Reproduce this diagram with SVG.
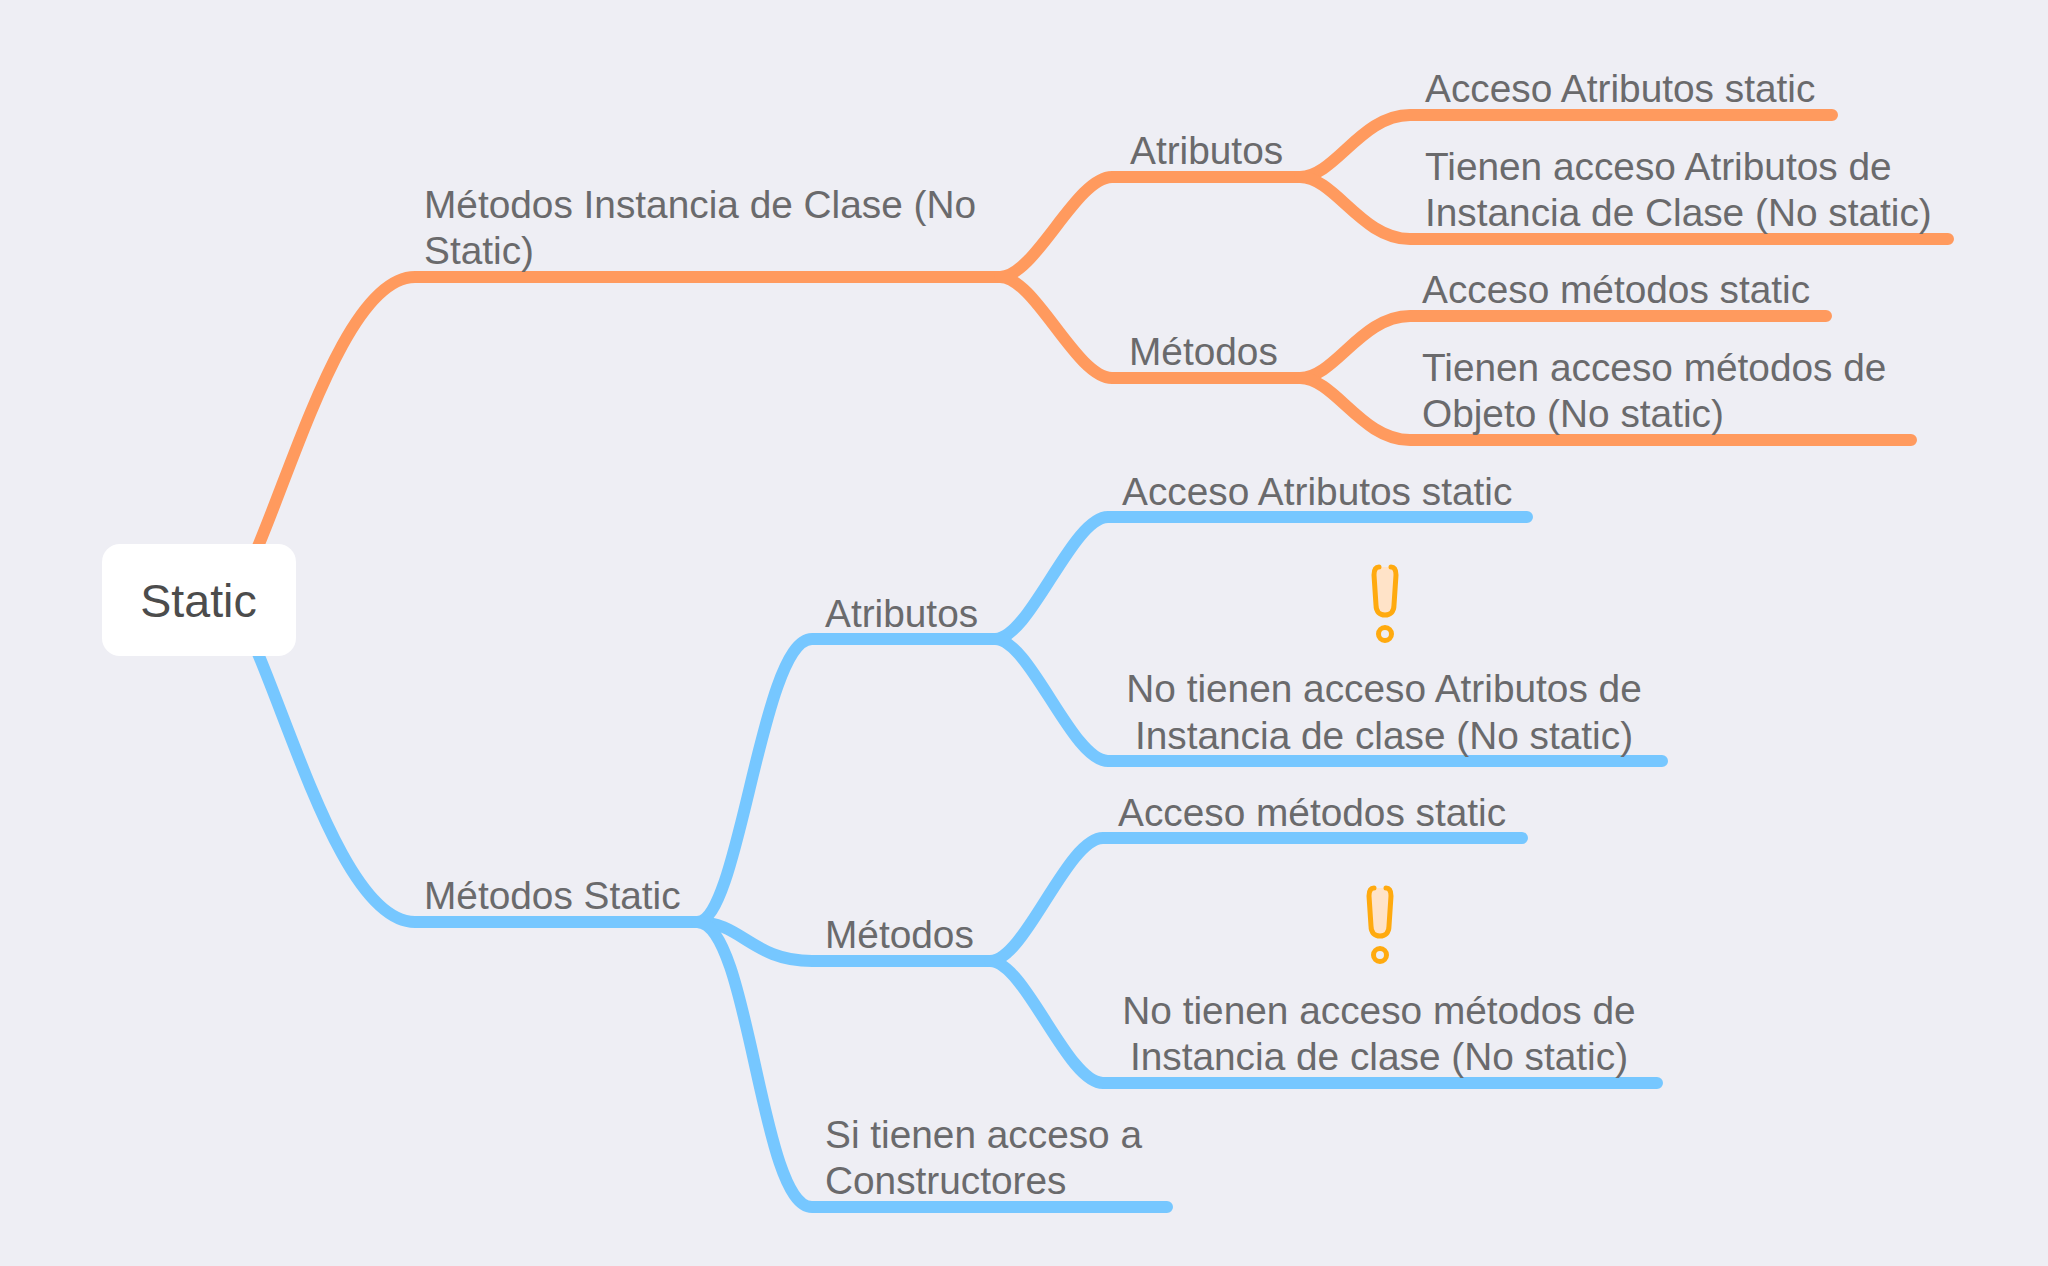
<svg xmlns="http://www.w3.org/2000/svg" width="2048" height="1266" viewBox="0 0 2048 1266">
<style>
.c{fill:none;stroke-width:12;stroke-linecap:round;stroke-linejoin:round}
.o{stroke:#FF9A5E}
.b{stroke:#76C7FF}
text{font-family:"Liberation Sans",Arial,sans-serif;font-size:38.8px;fill:#6a6a6c}
.m{text-anchor:middle}
.i{fill:#FFE3C8;stroke:#FFAA0F;stroke-width:5;stroke-linecap:round}
.d{fill:none;stroke:#FFAA0F;stroke-width:5}
</style>
<rect width="2048" height="1266" fill="#EEEEF4"/>
<g id="connectors">
<path class="c o" d="M240 590L259 544C300 445 350 277 415 277H1000"/>
<path class="c o" d="M1000 277C1035 277 1076 177 1112 177H1300"/>
<path class="c o" d="M1000 277C1035 277 1076 378 1112 378H1300"/>
<path class="c o" d="M1300 177C1335 177 1361 115 1410 115H1832"/>
<path class="c o" d="M1300 177C1335 177 1361 239 1410 239H1948"/>
<path class="c o" d="M1300 378C1335 378 1361 316 1410 316H1826"/>
<path class="c o" d="M1300 378C1335 378 1361 440 1410 440H1911"/>
<path class="c b" d="M240 610L259 656C300 755 350 922 415 922H700"/>
<path class="c b" d="M697 922C740 922 761 639 812 639H995"/>
<path class="c b" d="M697 922C742 922 752 961 812 961H990"/>
<path class="c b" d="M697 922C750 922 760 1207 812 1207H1167"/>
<path class="c b" d="M995 639C1030 639 1072 517 1108 517H1527"/>
<path class="c b" d="M995 639C1030 639 1072 761 1108 761H1662"/>
<path class="c b" d="M990 961C1025 961 1067 838 1103 838H1522"/>
<path class="c b" d="M990 961C1025 961 1067 1083 1103 1083H1657"/>
</g>
<g id="root"><rect x="102" y="544" width="194" height="112" rx="18" fill="#fff"/><text x="198.500" y="617" text-anchor="middle" style="font-size:46.6px;fill:#4c4c4c">Static</text></g>
<g id="n1"><text x="424" y="218">Métodos Instancia de Clase (No</text><text x="424" y="264">Static)</text></g>
<g id="n2"><text x="1130" y="164">Atributos</text></g>
<g id="n3"><text x="1425" y="102">Acceso Atributos static</text></g>
<g id="n4"><text x="1425" y="179.500">Tienen acceso Atributos de</text><text x="1425" y="226">Instancia de Clase (No static)</text></g>
<g id="n5"><text x="1129" y="365">Métodos</text></g>
<g id="n6"><text x="1422" y="303">Acceso métodos static</text></g>
<g id="n7"><text x="1422" y="381">Tienen acceso métodos de</text><text x="1422" y="427">Objeto (No static)</text></g>
<g id="n8"><text x="424" y="909">Métodos Static</text></g>
<g id="n9"><text x="825" y="627">Atributos</text></g>
<g id="n10"><text x="1122" y="505">Acceso Atributos static</text></g>
<g id="n11"><text class="m" x="1384" y="702">No tienen acceso Atributos de</text><text class="m" x="1384" y="749">Instancia de clase (No static)</text>
<path class="i" d="M1379 567C1375 567 1374 571 1374 575L1376 605C1376 612 1380 615 1385 615C1390 615 1394 612 1394 605L1396 575C1396 571 1395 567 1391 567"/><circle class="d" cx="1385" cy="634" r="6.5"/></g>
<g id="n12"><text x="825" y="948">Métodos</text></g>
<g id="n13"><text x="1118" y="826">Acceso métodos static</text></g>
<g id="n14"><text class="m" x="1379" y="1024">No tienen acceso métodos de</text><text class="m" x="1379" y="1070">Instancia de clase (No static)</text>
<path class="i" d="M1374 888C1370 888 1369 892 1369 896L1371 926C1371 933 1375 936 1380 936C1385 936 1389 933 1389 926L1391 896C1391 892 1390 888 1386 888"/><circle class="d" cx="1380" cy="955" r="6.5"/></g>
<g id="n15"><text x="825" y="1148">Si tienen acceso a</text><text x="825" y="1194">Constructores</text></g>
</svg>
